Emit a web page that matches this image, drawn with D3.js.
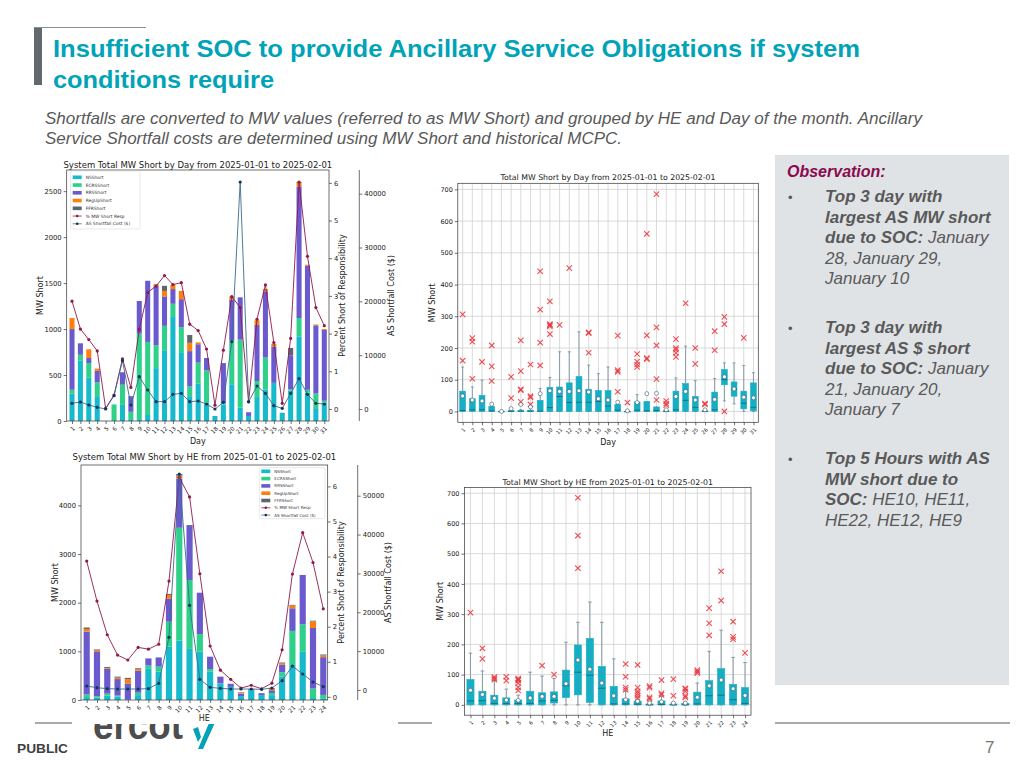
<!DOCTYPE html>
<html>
<head>
<meta charset="utf-8">
<script src="https://cdn.jsdelivr.net/npm/d3@7"></script>
<style>
  body { margin: 0; background: #fff; }
  svg { display: block; }
</style>
</head>
<body>
<svg id="slide" width="1024" height="768"></svg>
<script>
// ---------- data: MW short by day (stacked) ----------
var days = d3.range(1, 32);
var dayNS    = [300,660,470,270,0,0,175,20,20,65,575,770,1140,740,270,405,200,55,180,400,145,55,260,340,415,90,330,920,310,140,200];
var dayECRS  = [40,60,160,150,0,180,220,80,930,795,250,265,135,280,105,230,350,0,10,480,740,0,175,350,0,0,15,200,30,160,20];
var dayRRS   = [660,125,55,125,0,0,135,170,355,665,645,320,160,305,385,200,135,0,440,440,460,40,610,720,395,0,370,1430,1350,740,770];
var dayRegUp = [120,0,95,25,0,0,0,0,0,0,20,60,45,90,90,20,0,0,0,35,0,0,50,25,30,0,0,40,10,10,10];
var dayFFR   = [0,0,0,0,0,0,0,0,0,0,0,55,0,0,85,0,0,0,0,0,0,0,0,0,0,0,80,10,0,0,0];
var dayPct   = [2.86,2.12,1.84,1.54,0.02,0.37,1.33,0.57,2.11,3.09,3.26,3.54,3.30,3.35,2.25,2.08,1.59,0.10,1.56,2.98,2.69,0.19,2.38,3.29,1.76,0.15,1.87,6.02,4.05,2.69,2.21];
var dayCost  = [1050,1300,740,310,0,2480,8980,740,6000,3530,1360,1360,2720,2910,1360,1490,930,0,1240,12500,42170,1360,4270,2910,620,120,2910,5630,2720,1050,930];

// ---------- data: MW short by HE (stacked) ----------
var hours = d3.range(1, 25);
var heNS    = [60,50,90,70,10,100,640,585,1100,1220,1050,995,580,330,270,80,200,100,100,480,720,990,40,35];
var heECRS  = [55,30,40,20,0,50,70,100,510,2320,1415,360,55,10,0,0,0,0,45,90,700,565,195,70];
var heRRS   = [1290,920,510,340,330,450,145,190,470,1015,1110,850,255,140,60,50,25,40,55,160,465,1015,1245,775];
var heRegUp = [55,30,20,30,90,40,0,0,80,55,0,0,0,0,5,20,0,0,30,30,55,0,135,35];
var heFFR   = [30,10,20,20,25,15,0,0,20,35,20,0,0,0,0,10,0,0,15,10,15,0,15,20];
var hePct   = [3.87,2.73,1.77,1.19,1.05,1.41,1.36,1.50,3.30,6.26,5.70,3.51,1.45,0.76,0.50,0.25,0.33,0.23,0.39,1.34,3.50,4.68,3.83,2.51];
var heCost  = [1030,600,340,260,260,260,340,1715,13550,55570,21780,2740,690,430,260,260,260,170,510,2400,6170,4120,2060,860];

// ---------- data: box plots by day [q1, median, q3, whisker low, whisker high, mean] ----------
var dayQ1   = [0,0,0,0,0,0,0,0,0,0,0,0,0,0,0,0,0,0,0,0,0,0,0,0,0,0,0,84,48,8,2];
var dayMed  = [3,5,5,2,0,0,1,1,1,12,47,28,29,29,31,17,4,0,4,2,3,0,5,35,13,0,5,100,70,26,13];
var dayQ3   = [64,40,51,16,0,3,3,4,35,76,77,90,110,70,66,66,22,0,30,31,14,2,64,88,47,2,61,132,93,64,90];
var dayWLo  = [0,0,0,0,0,0,0,0,0,0,0,0,0,0,0,0,0,0,0,0,0,0,0,0,0,0,0,33,24,0,0];
var dayWHi  = [140,77,99,16,0,8,6,10,72,107,188,188,251,146,119,140,22,0,53,31,14,2,106,206,97,2,104,153,153,145,122];
var dayMean = [49,36,33,23,0,9,22,14,56,65,63,63,65,61,40,36,29,2,28,56,57,5,47,63,36,5,38,109,71,45,43];
var dayOut  = [[160,306],[103,220,231],[156],[96,142,208],[],[42,109],[30,67,70,127,224],[22,44,48,148],
               [145,217,321,442],[244,268,272,275,347],[273],[452],[],[185,247,249],[],[],[62,125,130,239],[28],
               [140,148,157,181],[165,168,240,560],[36,102,208,265,685],[20,25,33],[172,185,195,200,228],[341],
               [150,200],[22,25],[193,253],[0,275,298],[],[232],[]];

// ---------- data: box plots by HE ----------
var heQ1   = [0,0,0,0,0,0,0,6,24,33,8,0,0,0,0,0,0,0,0,0,0,0,0,0];
var heMed  = [13,14,5,4,4,5,13,15,63,108,98,55,3,3,2,0,1,0,0,3,30,32,17,5];
var heQ3   = [84,45,32,23,16,45,40,43,115,198,220,127,61,20,12,3,13,3,5,42,80,120,68,57];
var heWLo  = [0,0,0,0,0,0,0,0,0,0,0,0,0,0,0,0,0,0,0,0,0,0,0,0];
var heWHi  = [171,112,80,52,32,108,95,87,207,273,340,273,152,45,17,5,28,4,10,72,177,247,157,140];
var heMean = [48,34,22,16,15,23,28,28,70,148,118,72,30,17,12,6,10,6,6,25,63,82,53,31];
var heOut  = [[305],[152,187],[83,88,92],[80,93],[48,58,72,80,84,87],[],[130],[100],[],[452,560,685],[],[],[],
              [50,57,93,135],[22,30,38,45,57,132],[20,25,57,62],[33,38,82],[30,85],[25,30,45,52,55],
              [105,110,115],[230,270,320],[345,442],[217,225,275],[172]];

var KEYS = ['NSShort','ECRSShort','RRSShort','RegUpShort','FFRShort'];
var COLORS = {NSShort:'#17b9cc', ECRSShort:'#2fd18a', RRSShort:'#6a5acd', RegUpShort:'#ff7f0e', FFRShort:'#5d6670'};
var PCT_COLOR = '#8e1a4e', COST_LINE = '#3b6b8c', COST_DOT = '#0f3657';
var BOX_FILL = '#17aec4', MED_COLOR = '#0f6d7c', WHISK = '#6f8799', OUT_COLOR = '#e8333a';
var FONT = "'DejaVu Sans', sans-serif";
var SLIDE_FONT = "'Liberation Sans Narrow', 'Liberation Sans', Arial, sans-serif";

var svg = d3.select('#slide');

function styleAxis(sel, size) {
  sel.select('.domain').remove();
  sel.selectAll('.tick line').attr('stroke', '#333').attr('stroke-width', 0.7);
  sel.selectAll('.tick text').attr('font-family', FONT).attr('font-size', size).attr('fill', '#222');
}
function rotateLabels(sel) {
  sel.selectAll('.tick text').attr('x', 0).attr('y', 0).attr('dy', '0.35em')
    .attr('text-anchor', 'end').attr('transform', 'translate(1.5,6.5) rotate(-45)');
}
function label(g, x, y, str, size, rot, anchor) {
  return g.append('text').attr('x', x).attr('y', y)
    .attr('transform', rot ? 'rotate(' + rot + ',' + x + ',' + y + ')' : null)
    .attr('text-anchor', anchor || 'middle').attr('font-family', FONT)
    .attr('font-size', size).attr('fill', '#222').text(str);
}

// ---------- stacked bar + two line chart ----------
function stackChart(c) {
  var g = svg.append('g');
  var x = d3.scaleLinear().domain(c.xDom).range([c.l, c.r]);
  var y = d3.scaleLinear().domain(c.yDom).range([c.b, c.t]);
  var yp = d3.scaleLinear().domain(c.pDom).range([c.b, c.t]);
  var yc = d3.scaleLinear().domain(c.cDom).range([c.b, c.t]);

  var rows = c.cats.map(function(k, i) {
    return {cat: k, NSShort: c.ns[i], ECRSShort: c.ecrs[i], RRSShort: c.rrs[i], RegUpShort: c.regup[i], FFRShort: c.ffr[i]};
  });
  var series = d3.stack().keys(KEYS)(rows);
  var bw = (x(2) - x(1)) * 0.6;

  g.selectAll('g.layer').data(series).join('g').attr('class', 'layer')
    .attr('fill', function(s) { return COLORS[s.key]; })
    .selectAll('rect').data(function(s) { return s; }).join('rect')
    .attr('x', function(d) { return x(d.data.cat) - bw / 2; })
    .attr('width', bw)
    .attr('y', function(d) { return y(d[1]); })
    .attr('height', function(d) { return y(d[0]) - y(d[1]); });

  // percent line
  var lp = d3.line().x(function(d, i) { return x(c.cats[i]); }).y(function(d) { return yp(d); });
  g.append('path').datum(c.pct).attr('d', lp).attr('fill', 'none').attr('stroke', PCT_COLOR).attr('stroke-width', 0.9);
  g.selectAll('circle.p').data(c.pct).join('circle').attr('class', 'p')
    .attr('cx', function(d, i) { return x(c.cats[i]); }).attr('cy', function(d) { return yp(d); })
    .attr('r', 1.6).attr('fill', PCT_COLOR);

  // cost line
  var lc = d3.line().x(function(d, i) { return x(c.cats[i]); }).y(function(d) { return yc(d); });
  g.append('path').datum(c.cost).attr('d', lc).attr('fill', 'none').attr('stroke', COST_LINE).attr('stroke-width', 0.9);
  g.selectAll('circle.c').data(c.cost).join('circle').attr('class', 'c')
    .attr('cx', function(d, i) { return x(c.cats[i]); }).attr('cy', function(d) { return yc(d); })
    .attr('r', 1.6).attr('fill', COST_DOT);

  // spines
  g.append('rect').attr('x', c.l).attr('y', c.t).attr('width', c.r - c.l).attr('height', c.b - c.t)
    .attr('fill', 'none').attr('stroke', '#333').attr('stroke-width', 0.7);
  g.append('line').attr('x1', c.cx).attr('x2', c.cx).attr('y1', c.t).attr('y2', c.b)
    .attr('stroke', '#333').attr('stroke-width', 0.7);

  // axes
  g.append('g').attr('transform', 'translate(' + c.l + ',0)')
    .call(d3.axisLeft(y).tickValues(c.yTicks).tickSize(3).tickPadding(2).tickFormat(d3.format('d')))
    .call(styleAxis, c.fs);
  g.append('g').attr('transform', 'translate(0,' + c.b + ')')
    .call(d3.axisBottom(x).tickValues(c.cats).tickSize(3).tickPadding(2).tickFormat(d3.format('d')))
    .call(styleAxis, c.xfs).call(rotateLabels);
  g.append('g').attr('transform', 'translate(' + c.r + ',0)')
    .call(d3.axisRight(yp).tickValues(d3.range(0, 7)).tickSize(3).tickPadding(2).tickFormat(d3.format('d')))
    .call(styleAxis, c.fs);
  g.append('g').attr('transform', 'translate(' + c.cx + ',0)')
    .call(d3.axisRight(yc).tickValues(c.cTicks).tickSize(3).tickPadding(2).tickFormat(d3.format('d')))
    .call(styleAxis, c.fs);

  // labels
  label(g, (c.l + c.r) / 2, c.titleY, c.title, c.titleFs);
  label(g, c.yLabX, (c.t + c.b) / 2, 'MW Short', c.labFs, -90);
  label(g, (c.l + c.r) / 2, c.xLabY, c.xLab, c.labFs);
  label(g, c.pLabX, (c.t + c.b) / 2, 'Percent Short of Responsibility', c.labFs, -90);
  label(g, c.cLabX, (c.t + c.b) / 2, 'AS Shortfall Cost ($)', c.labFs, -90);

  // legend
  var lg = c.legend;
  g.append('rect').attr('x', lg.x).attr('y', lg.y).attr('width', lg.w).attr('height', lg.h).attr('rx', 1.5)
    .attr('fill', '#fff').attr('fill-opacity', 0.85).attr('stroke', '#d0d0d0').attr('stroke-width', 0.5);
  var entries = KEYS.map(function(k) { return {name: k, kind: 'bar', color: COLORS[k]}; })
    .concat([{name: '% MW Short Resp', kind: 'line', color: PCT_COLOR, dot: PCT_COLOR},
             {name: 'AS Shortfall Cost ($)', kind: 'line', color: COST_LINE, dot: COST_DOT}]);
  entries.forEach(function(e, i) {
    var ey = lg.y + lg.pad + i * lg.step;
    if (e.kind === 'bar') {
      g.append('rect').attr('x', lg.x + 2).attr('y', ey - 1.8).attr('width', 9).attr('height', 3.6).attr('fill', e.color);
    } else {
      g.append('line').attr('x1', lg.x + 2).attr('x2', lg.x + 11).attr('y1', ey).attr('y2', ey)
        .attr('stroke', e.color).attr('stroke-width', 0.8);
      g.append('circle').attr('cx', lg.x + 6.5).attr('cy', ey).attr('r', 1.3).attr('fill', e.dot);
    }
    g.append('text').attr('x', lg.x + 15).attr('y', ey + 1.5).attr('font-family', FONT)
      .attr('font-size', lg.fs).attr('fill', '#333').text(e.name);
  });
}

// ---------- box plot chart ----------
function boxChart(c) {
  var g = svg.append('g');
  var x = d3.scaleLinear().domain([0.5, c.cats.length + 0.5]).range([c.l, c.r]);
  var y = d3.scaleLinear().domain([-34.25, 719.25]).range([c.b, c.t]);
  var step = x(2) - x(1), bw = step * 0.6, cw = step * 0.3;
  var yTicks = d3.range(0, 701, 100);

  // grid
  g.selectAll('line.gx').data(c.cats).join('line').attr('class', 'gx')
    .attr('x1', function(d) { return x(d); }).attr('x2', function(d) { return x(d); })
    .attr('y1', c.t).attr('y2', c.b).attr('stroke', '#d0d0d0').attr('stroke-width', 0.8);
  g.selectAll('line.gy').data(yTicks).join('line').attr('class', 'gy')
    .attr('x1', c.l).attr('x2', c.r)
    .attr('y1', function(d) { return y(d); }).attr('y2', function(d) { return y(d); })
    .attr('stroke', '#d0d0d0').attr('stroke-width', 0.8);

  c.cats.forEach(function(k, i) {
    var cx = x(k);
    // whiskers + caps
    g.append('line').attr('x1', cx).attr('x2', cx).attr('y1', y(c.q3[i])).attr('y2', y(c.whi[i]))
      .attr('stroke', WHISK).attr('stroke-width', 0.8);
    g.append('line').attr('x1', cx).attr('x2', cx).attr('y1', y(c.q1[i])).attr('y2', y(c.wlo[i]))
      .attr('stroke', WHISK).attr('stroke-width', 0.8);
    [c.whi[i], c.wlo[i]].forEach(function(v) {
      g.append('line').attr('x1', cx - cw / 2).attr('x2', cx + cw / 2).attr('y1', y(v)).attr('y2', y(v))
        .attr('stroke', WHISK).attr('stroke-width', 0.8);
    });
    // box
    g.append('rect').attr('x', cx - bw / 2).attr('width', bw)
      .attr('y', y(c.q3[i])).attr('height', Math.max(0.6, y(c.q1[i]) - y(c.q3[i])))
      .attr('fill', BOX_FILL).attr('stroke', BOX_FILL).attr('stroke-width', 0.6);
    // median
    g.append('line').attr('x1', cx - bw / 2).attr('x2', cx + bw / 2).attr('y1', y(c.med[i])).attr('y2', y(c.med[i]))
      .attr('stroke', MED_COLOR).attr('stroke-width', 0.9);
    // outliers
    c.out[i].forEach(function(v) {
      var oy = y(v), s = 2.7;
      g.append('path').attr('d', 'M' + (cx - s) + ',' + (oy - s) + 'L' + (cx + s) + ',' + (oy + s) +
        'M' + (cx - s) + ',' + (oy + s) + 'L' + (cx + s) + ',' + (oy - s))
        .attr('stroke', OUT_COLOR).attr('stroke-width', 1.1).attr('stroke-opacity', 0.85);
    });
    // mean
    g.append('circle').attr('cx', cx).attr('cy', y(c.mean[i])).attr('r', 2)
      .attr('fill', '#fff').attr('stroke', '#3c5a6e').attr('stroke-width', 0.6);
  });

  g.append('rect').attr('x', c.l).attr('y', c.t).attr('width', c.r - c.l).attr('height', c.b - c.t)
    .attr('fill', 'none').attr('stroke', '#333').attr('stroke-width', 0.7);

  g.append('g').attr('transform', 'translate(' + c.l + ',0)')
    .call(d3.axisLeft(y).tickValues(yTicks).tickSize(3).tickPadding(2))
    .call(styleAxis, c.fs);
  g.append('g').attr('transform', 'translate(0,' + c.b + ')')
    .call(d3.axisBottom(x).tickValues(c.cats).tickSize(3).tickPadding(2).tickFormat(d3.format('d')))
    .call(styleAxis, c.xfs).call(rotateLabels);

  label(g, (c.l + c.r) / 2, c.titleY, c.title, c.titleFs);
  label(g, c.yLabX, (c.t + c.b) / 2, 'MW Short', c.labFs, -90);
  label(g, (c.l + c.r) / 2, c.xLabY, c.xLab, c.labFs);
}

// ---------- slide chrome ----------
function slideText(x, y, str, o) {
  var t = svg.append('text').attr('x', x).attr('y', y)
    .attr('font-family', o.family || SLIDE_FONT).attr('font-size', o.size)
    .attr('font-weight', o.weight || 'normal').attr('font-style', o.style || 'normal')
    .attr('fill', o.fill).text(str);
  if (o.len) t.attr('textLength', o.len).attr('lengthAdjust', 'spacingAndGlyphs');
  return t;
}

svg.append('rect').attr('x', 34).attr('y', 27).attr('width', 8).attr('height', 58).attr('fill', '#61686e');
svg.append('line').attr('x1', 34).attr('x2', 146).attr('y1', 27.5).attr('y2', 27.5).attr('stroke', '#8a9096').attr('stroke-width', 1.2);
slideText(53, 57, 'Insufficient SOC to provide Ancillary Service Obligations if system', {size: 24, weight: 'bold', fill: '#00a3b7', len: 807});
slideText(53, 88, 'conditions require', {size: 24, weight: 'bold', fill: '#00a3b7', len: 221});
slideText(45, 124, 'Shortfalls are converted to MW values (referred to as MW Short) and grouped by HE and Day of the month. Ancillary',
  {size: 16, style: 'italic', fill: '#595959', len: 877});
slideText(45, 144, 'Service Shortfall costs are determined using MW Short and historical MCPC.',
  {size: 16, style: 'italic', fill: '#595959', len: 577});

// observation panel
svg.append('rect').attr('x', 775).attr('y', 155).attr('width', 234).attr('height', 530).attr('fill', '#e0e3e6');
slideText(787, 177, 'Observation:', {family: "'Liberation Sans', Arial, sans-serif", size: 16, weight: 'bold', style: 'italic', fill: '#8b0a50'});
var obs = [
  {y: 202, lines: [[['Top 3 day with', true]], [['largest AS MW short', true]], [['due to SOC:', true], [' January', false]], [['28, January 29,', false]], [['January 10', false]]]},
  {y: 333, lines: [[['Top 3 day with', true]], [['largest AS $ short', true]], [['due to SOC:', true], [' January', false]], [['21, January 20,', false]], [['January 7', false]]]},
  {y: 464, lines: [[['Top 5 Hours with AS', true]], [['MW short due to', true]], [['SOC:', true], [' HE10, HE11,', false]], [['HE22, HE12, HE9', false]]]}
];
obs.forEach(function(b) {
  svg.append('text').attr('x', 788).attr('y', b.y).attr('font-family', "'Liberation Sans', Arial, sans-serif")
    .attr('font-size', 13).attr('fill', '#595959').text('\u2022');
  b.lines.forEach(function(ln, j) {
    var t = svg.append('text').attr('x', 825).attr('y', b.y + j * 20.5)
      .attr('font-family', "'Liberation Sans', Arial, sans-serif").attr('font-size', 17)
      .attr('font-style', 'italic').attr('fill', '#595959');
    ln.forEach(function(p) {
      t.append('tspan').attr('font-weight', p[1] ? 'bold' : 'normal').text(p[0]);
    });
  });
});

// footer
[[35, 72], [398, 432], [775, 1010]].forEach(function(s) {
  svg.append('line').attr('x1', s[0]).attr('x2', s[1]).attr('y1', 723).attr('y2', 723).attr('stroke', '#555').attr('stroke-width', 1.2);
});
svg.append('clipPath').attr('id', 'logoClip').append('rect').attr('x', 80).attr('y', 724).attr('width', 160).attr('height', 40);
var logo = svg.append('g').attr('clip-path', 'url(#logoClip)');
logo.append('text').attr('x', 93).attr('y', 739).attr('font-family', "'Liberation Sans', Arial, sans-serif")
  .attr('font-size', 40).attr('font-weight', 'bold').attr('fill', '#4d4d4d')
  .attr('textLength', 90).attr('lengthAdjust', 'spacingAndGlyphs').text('ercot');
logo.append('path').attr('d', 'M212,716 L218,716 L203,749 L198,749 Z M193,729 L198,727 L201,737 L198,742 Z').attr('fill', '#00a3b7');
slideText(17, 753, 'PUBLIC', {size: 13, weight: 'bold', fill: '#404040', len: 51});
slideText(985, 753, '7', {family: "'Liberation Sans', Arial, sans-serif", size: 17, fill: '#777'});

// ---------- charts ----------
stackChart({
  cats: days, ns: dayNS, ecrs: dayECRS, rrs: dayRRS, regup: dayRegUp, ffr: dayFFR, pct: dayPct, cost: dayCost,
  l: 66.7, r: 329, t: 170, b: 421, cx: 359.3,
  xDom: [0.37, 31.56], yDom: [0, 2730], pDom: [-0.32, 6.34], cDom: [-2230, 44400],
  yTicks: [0, 500, 1000, 1500, 2000, 2500], cTicks: [0, 10000, 20000, 30000, 40000],
  fs: 6.8, xfs: 5.8, labFs: 8, titleFs: 8.5,
  title: 'System Total MW Short by Day from 2025-01-01 to 2025-02-01', titleY: 168,
  xLab: 'Day', xLabY: 444, yLabX: 43, pLabX: 345, cLabX: 394,
  legend: {x: 70.7, y: 171, w: 69.3, h: 58, pad: 6.3, step: 7.75, fs: 4.4}
});

stackChart({
  cats: hours, ns: heNS, ecrs: heECRS, rrs: heRRS, regup: heRegUp, ffr: heFFR, pct: hePct, cost: heCost,
  l: 81, r: 327.7, t: 465, b: 700, cx: 357.7,
  xDom: [0.446, 24.43], yDom: [0, 4830], pDom: [-0.09, 6.61], cDom: [-2570, 57900],
  yTicks: [0, 1000, 2000, 3000, 4000], cTicks: [0, 10000, 20000, 30000, 40000, 50000],
  fs: 6.8, xfs: 5.8, labFs: 8, titleFs: 8.5,
  title: 'System Total MW Short by HE from 2025-01-01 to 2025-02-01', titleY: 460,
  xLab: 'HE', xLabY: 721, yLabX: 58, pLabX: 344, cLabX: 391,
  legend: {x: 259.3, y: 467.7, w: 65.7, h: 51, pad: 3.6, step: 7.3, fs: 4.1}
});

boxChart({
  cats: days, q1: dayQ1, med: dayMed, q3: dayQ3, wlo: dayWLo, whi: dayWHi, mean: dayMean, out: dayOut,
  l: 457.8, r: 758.3, t: 183.3, b: 422.3,
  fs: 6.5, xfs: 5.2, labFs: 8, titleFs: 7.8,
  title: 'Total MW Short by Day from 2025-01-01 to 2025-02-01', titleY: 179.5,
  xLab: 'Day', xLabY: 445, yLabX: 435
});

boxChart({
  cats: hours, q1: heQ1, med: heMed, q3: heQ3, wlo: heWLo, whi: heWHi, mean: heMean, out: heOut,
  l: 464.5, r: 751, t: 487.4, b: 715.2,
  fs: 6.5, xfs: 5.2, labFs: 8, titleFs: 7.8,
  title: 'Total MW Short by HE from 2025-01-01 to 2025-02-01', titleY: 484.5,
  xLab: 'HE', xLabY: 736, yLabX: 443
});
</script>
</body>
</html>
